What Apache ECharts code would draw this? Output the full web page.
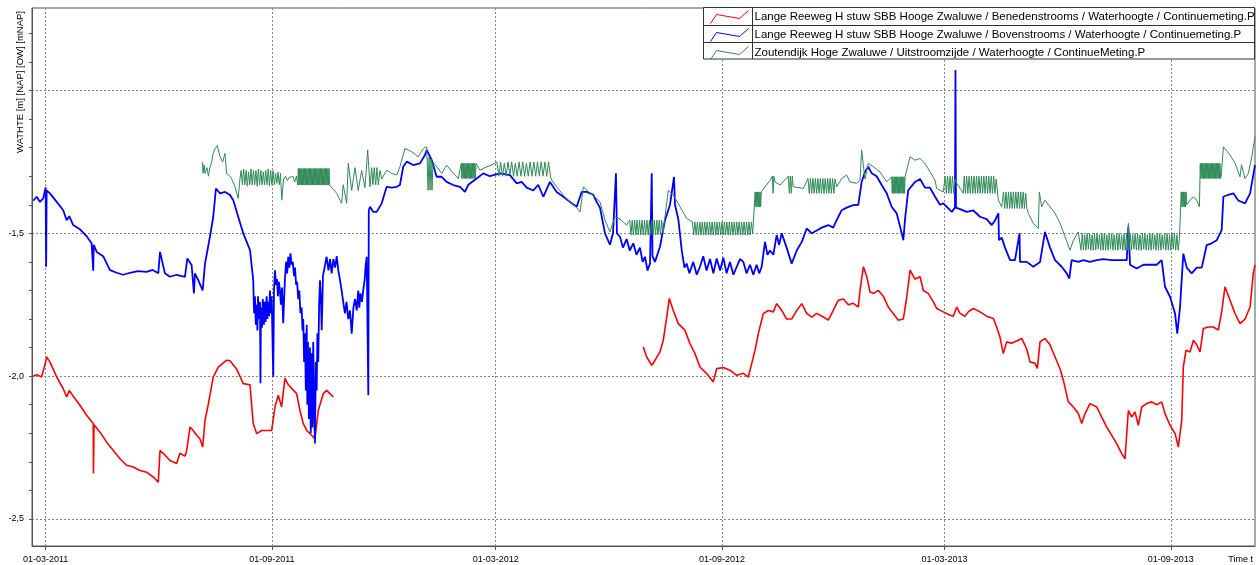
<!DOCTYPE html>
<html>
<head>
<meta charset="utf-8">
<title>WATHTE Hooge Zwaluwe</title>
<script src="https://cdn.jsdelivr.net/npm/echarts@6/dist/echarts.min.js"></script>
<style>
  html, body { margin: 0; padding: 0; background: #fff; }
  #chart { width: 1259px; height: 565px; }
</style>
</head>
<body>
<div id="chart"></div>
<script>
// x = dagen sinds 01-03-2011, y = waterhoogte [m NAP]
const xRange = [-11.1, 983.5];
const yRange = [-2.5945, -0.7112];
const xTickDates = ["01-03-2011", "01-09-2011", "01-03-2012", "01-09-2012", "01-03-2013", "01-09-2013"];
const yTickValues = [-2.5, -2.4, -2.3, -2.2, -2.1, -2.0, -1.9, -1.8, -1.7, -1.6, -1.5, -1.4, -1.3, -1.2, -1.1, -1.0, -0.9, -0.8];
const yLabelValues = [-2.5, -2.0, -1.5];
const yGridValues = [-2.5, -2.0, -1.5, -1.0];

const seriesNames = [
  "Lange Reeweg H stuw SBB Hooge Zwaluwe / Benedenstrooms / Waterhoogte / Continuemeting.P",
  "Lange Reeweg H stuw SBB Hooge Zwaluwe / Bovenstrooms / Waterhoogte / Continuemeting.P",
  "Zoutendijk Hoge Zwaluwe / Uitstroomzijde / Waterhoogte / ContinueMeting.P"
];
const seriesColors = ["#ff0000", "#0000ff", "#2e8b57"];

// benedenstrooms
const redReadings = [
  [-10.1,-2.0],[-7.3,-1.995],[-3.3,-2.003],[0,-1.95],[0.8,-1.933],[3.5,-1.95],[9,-2.003],[14.3,-2.044],[17.1,-2.073],
  [19.2,-2.05],[22.4,-2.07],[27.9,-2.102],[33.3,-2.137],[38.7,-2.166],[38.9,-2.341],[39.3,-2.17],[44.2,-2.196],
  [49.6,-2.231],[55,-2.26],[60.4,-2.289],[65.9,-2.312],[71.2,-2.318],[76.7,-2.33],[82.1,-2.336],[87.5,-2.353],
  [91.6,-2.371],[93,-2.26],[95.6,-2.27],[101.1,-2.295],[106.5,-2.306],[109.2,-2.27],[113.3,-2.28],[114.7,-2.26],
  [117.4,-2.178],[120,-2.19],[122.8,-2.207],[125.5,-2.22],[127.7,-2.248],[129.6,-2.155],[132.2,-2.10],[136.3,-2.003],
  [140.4,-1.968],[147.2,-1.944],[149.9,-1.946],[155.3,-1.975],[160.7,-2.026],[166.2,-2.03],[168.8,-2.166],
  [171.6,-2.201],[175.7,-2.19],[179.7,-2.19],[183.8,-2.19],[186.5,-2.108],[189.2,-2.067],[191.9,-2.108],
  [194.6,-2.008],[197.3,-2.03],[204.1,-2.061],[206.8,-2.12],[209.5,-2.166],[212.3,-2.19],[216.3,-2.207],
  [219,-2.219],[221.7,-2.12],[225.8,-2.061],[228.5,-2.05],[231.2,-2.061],[233.9,-2.073],
  [360,null],
  [486,-1.898],[488.8,-1.933],[492.9,-1.962],[495.5,-1.945],[499.6,-1.915],[502.3,-1.874],[505.1,-1.793],
  [507.2,-1.728],[510.4,-1.77],[514.5,-1.816],[519.9,-1.839],[524,-1.886],[528.1,-1.921],[532.1,-1.968],
  [537.6,-1.991],[543,-2.02],[545.7,-1.973],[551.1,-1.97],[556.5,-1.979],[562,-1.997],[567.4,-1.99],[571.4,-2.003],
  [574.2,-1.956],[576.9,-1.909],[579.6,-1.851],[583.6,-1.781],[587.7,-1.77],[591.8,-1.775],[594.5,-1.746],
  [598.6,-1.77],[602.6,-1.80],[606.7,-1.80],[610.8,-1.77],[614.9,-1.746],[618.9,-1.78],[623,-1.793],[627.1,-1.78],
  [632.4,-1.793],[636.5,-1.804],[640.5,-1.77],[644.6,-1.734],[648.7,-1.73],[652.8,-1.75],[656.8,-1.745],
  [660.9,-1.758],[662.3,-1.70],[665,-1.617],[667.7,-1.65],[670.4,-1.705],[673.1,-1.71],[677.2,-1.70],[681.2,-1.72],
  [685.3,-1.758],[689.3,-1.781],[693.4,-1.804],[697.5,-1.80],[700.3,-1.722],[703,-1.629],[707,-1.66],[711.1,-1.652],
  [713.8,-1.70],[717.8,-1.71],[721.9,-1.74],[724.6,-1.763],[730,-1.775],[735.5,-1.787],[738.2,-1.79],[740.9,-1.758],
  [743.6,-1.78],[747.7,-1.79],[750.3,-1.775],[754.4,-1.763],[759.9,-1.775],[765.3,-1.79],[770.7,-1.798],
  [773.4,-1.828],[776.1,-1.863],[778.8,-1.921],[781.6,-1.88],[785.6,-1.885],[789.7,-1.877],[793.8,-1.868],
  [797.8,-1.905],[800.5,-1.95],[804.6,-1.955],[806.5,-1.973],[808.7,-1.88],[812.7,-1.868],[816.8,-1.89],
  [820.9,-1.933],[825,-1.975],[827.6,-2.014],[831.7,-2.09],[835.8,-2.108],[839.8,-2.131],[842.6,-2.166],
  [845.3,-2.131],[849.3,-2.096],[854.8,-2.108],[858.8,-2.143],[862.9,-2.178],[867,-2.207],[871,-2.236],
  [875.1,-2.271],[877.8,-2.289],[880.5,-2.12],[883.2,-2.143],[885.9,-2.125],[888.6,-2.172],[891.4,-2.108],
  [895.4,-2.096],[899.5,-2.09],[903.6,-2.10],[907.6,-2.09],[910.3,-2.131],[914.4,-2.172],[918.5,-2.201],
  [921.2,-2.248],[923.9,-2.155],[925.2,-1.968],[927.4,-1.909],[930.7,-1.915],[933.4,-1.874],[936.1,-1.89],
  [938.8,-1.915],[941.5,-1.833],[945.5,-1.828],[949.6,-1.828],[953.7,-1.839],[956.4,-1.775],[959.1,-1.687],
  [963.2,-1.734],[967.3,-1.781],[971.3,-1.816],[975.4,-1.80],[979.5,-1.758],[982.1,-1.64],[983.5,-1.611]
];

// bovenstrooms
const blueReadings = [
  [-10.1,-1.386],[-7.3,-1.372],[-4.6,-1.39],[-2,-1.378],[0,-1.339],[0.4,-1.617],[0.8,-1.35],[3.5,-1.36],[9,-1.39],
  [14.3,-1.419],[17.1,-1.454],[19.2,-1.44],[22.4,-1.471],[27.9,-1.486],[33.3,-1.51],[37.4,-1.535],[38.7,-1.631],
  [39.1,-1.54],[41.5,-1.565],[46.8,-1.58],[52.3,-1.629],[57.7,-1.638],[63,-1.645],[68.6,-1.638],[75,-1.632],
  [82.1,-1.635],[87,-1.628],[91.6,-1.64],[93,-1.565],[97,-1.64],[101.1,-1.652],[106.5,-1.645],[113.3,-1.652],
  [115.2,-1.588],[118.7,-1.611],[120.6,-1.71],[121.4,-1.64],[124.1,-1.664],[125.5,-1.664],[127.7,-1.70],
  [129.6,-1.606],[133.6,-1.512],[136.3,-1.442],[138.5,-1.343],[141.8,-1.36],[146,-1.355],[149.9,-1.366],
  [152.6,-1.384],[156.6,-1.442],[160.7,-1.5],[163.5,-1.53],[166.2,-1.559],
  [168.8,-1.664],[169.5,-1.78],[170.2,-1.72],[170.9,-1.82],[171.6,-1.75],[172.2,-1.84],[172.7,-1.72],[173.4,-1.80],
  [174.3,-1.74],[174.7,-2.025],[175.1,-1.76],[175.9,-1.83],[176.6,-1.73],[177.5,-1.82],[178.2,-1.74],[178.9,-1.81],
  [179.7,-1.72],[180.4,-1.80],[181.1,-1.74],[181.8,-1.79],[182.4,-1.70],[183.1,-1.78],[183.8,-1.72],[185.1,-2.003],
  [185.7,-1.70],[186.5,-1.629],[187.3,-1.68],[188.1,-1.66],[188.9,-1.72],[189.7,-1.67],[190.5,-1.70],[191.3,-1.75],
  [192.2,-1.69],[193.2,-1.815],[194,-1.72],[194.6,-1.66],[195.5,-1.60],[196.4,-1.64],[197.3,-1.582],[198.2,-1.62],
  [199.1,-1.57],[200.1,-1.61],[201,-1.60],[202,-1.65],[202.8,-1.62],[203.7,-1.68],[204.5,-1.67],[205.4,-1.73],
  [206.3,-1.70],[207.2,-1.78],[208.2,-1.76],[208.9,-1.84],[209.5,-1.80],[210.2,-1.95],[210.9,-1.85],[211.6,-2.05],
  [212.3,-1.82],[212.8,-2.1],[213.3,-1.88],[214.1,-2.15],[215,-1.9],[215.6,-2.2],[216.3,-1.92],[217,-2.18],
  [217.6,-1.88],[218.3,-2.1],[219,-2.236],[219.7,-1.95],[220.4,-2.05],[221,-1.85],[221.7,-1.95],[222.4,-1.75],
  [223.1,-1.664],[224,-1.75],[224.5,-1.839],[225.5,-1.65],
  [228.5,-1.582],[230,-1.63],[231.3,-1.59],[232.6,-1.64],[234,-1.59],[235.4,-1.62],[236.7,-1.58],[238,-1.63],
  [239.4,-1.664],[240.7,-1.70],[242,-1.74],[243.4,-1.78],[244.7,-1.74],[246.1,-1.80],[247.5,-1.77],[248.9,-1.851],
  [250.3,-1.76],[251.6,-1.73],[253,-1.77],[254.2,-1.70],[255.1,-1.76],[256,-1.71],[257.2,-1.74],[258.3,-1.699],
  [259.5,-1.66],[260.3,-1.61],[261.1,-1.582],[262.4,-2.067],[262.8,-1.419],
  [263.8,-1.407],[266.4,-1.425],[269.2,-1.425],[273.3,-1.395],[277.3,-1.337],[281.4,-1.34],[285.5,-1.337],
  [288.1,-1.331],[290.8,-1.267],[293.6,-1.249],[299,-1.261],[304.4,-1.255],[308.5,-1.226],[309.9,-1.208],
  [314,-1.244],[318,-1.302],[322.1,-1.302],[326.1,-1.32],[331.5,-1.331],[337,-1.337],[341,-1.355],[343.7,-1.33],
  [350.5,-1.308],[355.9,-1.29],[361.3,-1.30],[369.5,-1.29],[377.6,-1.296],[383.1,-1.325],[387.1,-1.32],
  [391.2,-1.34],[396.6,-1.35],[400.6,-1.33],[404.7,-1.372],[410.1,-1.32],[415.6,-1.355],[421,-1.372],
  [426.4,-1.39],[431.9,-1.407],[435.9,-1.355],[440,-1.355],[445.4,-1.365],[448.1,-1.39],[450.8,-1.41],
  [454.9,-1.5],[458.9,-1.54],[461.4,-1.50],[463.8,-1.29],[464.6,-1.50],[467.1,-1.512],[469.5,-1.55],[472.5,-1.52],
  [475,-1.56],[477.9,-1.535],[480.5,-1.575],[483.3,-1.55],[485.5,-1.60],[487.4,-1.582],[489.5,-1.63],
  [491.5,-1.606],[492.9,-1.29],[493.5,-1.58],[495.5,-1.60],[499.6,-1.547],[503.7,-1.454],[507.7,-1.401],
  [511,-1.302],[511.8,-1.40],[514.5,-1.45],[517.3,-1.559],[519.5,-1.62],[521.3,-1.606],[523.5,-1.64],[526.7,-1.60],
  [529.5,-1.645],[532.1,-1.617],[534.8,-1.58],[537.5,-1.63],[540.3,-1.59],[543,-1.64],[545.7,-1.588],[548.5,-1.63],
  [551.1,-1.585],[553.8,-1.64],[556.5,-1.60],[559.3,-1.645],[562,-1.617],[564.7,-1.59],[567.4,-1.60],[570,-1.64],
  [572.8,-1.61],[575.5,-1.645],[578.2,-1.61],[580.3,-1.64],[582.3,-1.617],[585,-1.53],[587,-1.575],[589.1,-1.56],
  [591.8,-1.575],[594.5,-1.506],[596.5,-1.54],[598.6,-1.50],[602.6,-1.55],[606.7,-1.606],[610.8,-1.56],
  [614.9,-1.53],[618.9,-1.483],[623,-1.50],[627.1,-1.49],[631.1,-1.48],[636.5,-1.471],[640.5,-1.48],
  [643.3,-1.454],[647.4,-1.419],[651.4,-1.41],[656.8,-1.401],[660.9,-1.40],[663.6,-1.32],[666.3,-1.285],
  [669,-1.267],[671.8,-1.29],[675.8,-1.30],[679.9,-1.331],[684,-1.36],[688,-1.407],[692.1,-1.43],[696.2,-1.5],
  [697.5,-1.524],[698.9,-1.45],[701.5,-1.349],[707,-1.32],[711.1,-1.31],[715.1,-1.34],[719.2,-1.34],
  [723.3,-1.372],[727.3,-1.40],[730,-1.395],[736.9,-1.425],[739.5,-1.41],[739.9,-0.928],[740.3,-1.41],
  [743.6,-1.415],[749.1,-1.425],[754.4,-1.42],[759.9,-1.442],[765.3,-1.45],[769.4,-1.471],[772.1,-1.455],
  [774.8,-1.43],[775.3,-1.524],[777.5,-1.515],[780.2,-1.55],[784.3,-1.594],[788.3,-1.594],[792,-1.50],
  [792.4,-1.60],[797.9,-1.60],[803.2,-1.617],[808.7,-1.60],[812.7,-1.495],[816.8,-1.55],[820.9,-1.594],
  [826.3,-1.617],[830.4,-1.64],[832.5,-1.658],[834.4,-1.594],[839.8,-1.60],[843.9,-1.594],[849.3,-1.60],
  [854.8,-1.594],[860.2,-1.59],[867,-1.594],[873.7,-1.594],[879.2,-1.594],[880.5,-1.477],[881.9,-1.61],
  [887.3,-1.623],[892.7,-1.61],[898.1,-1.61],[903.6,-1.61],[907.6,-1.594],[910.3,-1.687],[914.4,-1.722],
  [918.5,-1.781],[920.3,-1.851],[922.5,-1.76],[925.2,-1.571],[928,-1.62],[932,-1.64],[936.1,-1.62],[940.2,-1.62],
  [944.2,-1.541],[948.3,-1.535],[952.4,-1.524],[956.4,-1.489],[957.8,-1.372],[961.8,-1.365],[965.9,-1.36],
  [969.9,-1.385],[975.4,-1.395],[979.5,-1.36],[983.5,-1.261]
];

const greenReadings = [
  [127.4,-1.25],[128,-1.29],[128.8,-1.26],[129.6,-1.29],[131.2,-1.27],[132.4,-1.30],[133.6,-1.27],[135,-1.249],
  [136.3,-1.22],[137.7,-1.203],[139.6,-1.193],[141.8,-1.232],[144,-1.25],[145.8,-1.22],[147.2,-1.29],[149.9,-1.30],
  [151.3,-1.31],[154,-1.337],[156.6,-1.378],[158,-1.31],
  [159,-1.28],[160,-1.33],[161,-1.275],[162,-1.33],[163,-1.28],[164,-1.335],[165,-1.285],[166,-1.33],[167,-1.275],
  [168,-1.33],[169,-1.28],[170,-1.33],[171,-1.28],[172,-1.335],[173,-1.275],[174,-1.33],[175,-1.28],[176,-1.33],
  [177,-1.285],[178,-1.33],[179,-1.28],[180,-1.33],[181,-1.275],[182,-1.335],[183,-1.28],[184,-1.33],[185,-1.28],
  [186,-1.33],[187,-1.29],[188,-1.325],[189,-1.285],[190,-1.33],[191,-1.29],[192,-1.384],
  [193.5,-1.31],[195,-1.30],[196.5,-1.315],[198,-1.305],[199.5,-1.31],[201,-1.30],[202.5,-1.32],[204,-1.30],
  [205,-1.331],[205.5,-1.273],[206,-1.331],[206.5,-1.273],[207,-1.331],[207.5,-1.273],[208,-1.331],[208.5,-1.273],
  [209,-1.331],[209.5,-1.273],[210,-1.331],[210.5,-1.273],[211,-1.331],[211.5,-1.273],[212,-1.331],[212.5,-1.273],
  [213,-1.331],[213.5,-1.273],[214,-1.331],[214.5,-1.273],[215,-1.331],[215.5,-1.273],[216,-1.331],[216.5,-1.273],
  [217,-1.331],[217.5,-1.273],[218,-1.331],[218.5,-1.273],[219,-1.331],[219.5,-1.273],[220,-1.331],[220.5,-1.273],
  [221,-1.331],[221.5,-1.273],[222,-1.331],[222.5,-1.273],[223,-1.331],[223.5,-1.273],[224,-1.331],[224.5,-1.273],
  [225,-1.331],[225.5,-1.273],[226,-1.331],[226.5,-1.273],[227,-1.331],[227.5,-1.273],[228,-1.331],[228.5,-1.273],
  [229,-1.331],[229.5,-1.273],[230,-1.331],[230.5,-1.273],[231,-1.331],
  [232.6,-1.33],[236.7,-1.36],[240.7,-1.395],[242,-1.33],[244.8,-1.395],[246.1,-1.255],[248.9,-1.35],[251.6,-1.27],
  [254.2,-1.35],[257,-1.28],[259.7,-1.34],[261.9,-1.208],[263.8,-1.337],[265.1,-1.27],[266.2,-1.33],[267.2,-1.27],
  [268.4,-1.33],[269.4,-1.27],[270.5,-1.33],[271.9,-1.28],[273.3,-1.31],[277.3,-1.279],[281.4,-1.29],
  [285.5,-1.296],[288.1,-1.267],[292.2,-1.203],[297.6,-1.214],[303,-1.232],[307.1,-1.203],[309.9,-1.197],
  [311,-1.349],[311.8,-1.232],[312.6,-1.349],[313.4,-1.24],[314.2,-1.349],[315,-1.25],[318,-1.267],[322.1,-1.29],
  [326.1,-1.261],[331.5,-1.29],[335.6,-1.308],
  [338,-1.255],[338.5,-1.308],[339,-1.255],[339.5,-1.308],[340,-1.255],[340.5,-1.308],[341,-1.255],[341.5,-1.308],
  [342,-1.255],[342.5,-1.308],[343,-1.255],[343.5,-1.308],[344,-1.255],[344.5,-1.308],[345,-1.255],[345.5,-1.308],
  [346,-1.255],[346.5,-1.308],[347,-1.255],[347.5,-1.308],[348,-1.255],[348.5,-1.308],[349,-1.255],[349.5,-1.308],
  [350,-1.255],
  [353.2,-1.279],[358.7,-1.267],[362.7,-1.261],
  [367,-1.25],[368.5,-1.30],[370,-1.25],[371.5,-1.30],[373,-1.255],[374.5,-1.30],[376,-1.25],[377.5,-1.295],
  [379,-1.25],[380.5,-1.30],[382,-1.255],[383.5,-1.30],[385,-1.25],[386.5,-1.30],[388,-1.25],[389.5,-1.30],
  [391,-1.255],[392.5,-1.30],[394,-1.25],[395.5,-1.30],[397,-1.25],[398.5,-1.30],[400,-1.25],[401.5,-1.30],
  [403,-1.25],[404.5,-1.30],[406,-1.25],[407.5,-1.30],[409,-1.25],[410.5,-1.30],
  [411.5,-1.314],[415.6,-1.337],[421,-1.366],[426.4,-1.39],[431.9,-1.41],[434.6,-1.425],[437.3,-1.337],
  [442.7,-1.36],[446.8,-1.372],[450.8,-1.39],[454.9,-1.454],[458.9,-1.495],[463,-1.442],[467.1,-1.45],[472.5,-1.471],
  [475,-1.454],[476,-1.506],[477,-1.454],[478,-1.506],[479,-1.454],[480,-1.506],[481,-1.454],[482,-1.506],
  [483,-1.454],[484,-1.506],[485,-1.454],[486,-1.506],[487,-1.454],[488,-1.506],[489,-1.454],[490,-1.506],
  [491,-1.454],[492,-1.506],[493,-1.454],[494,-1.506],[495,-1.454],[496,-1.506],[497,-1.454],[498,-1.506],
  [499,-1.454],[500,-1.506],[501,-1.454],[502,-1.5],
  [506.4,-1.349],[510.4,-1.366],[515.9,-1.407],[521.3,-1.448],
  [526,-1.46],[527,-1.506],[528,-1.46],[529,-1.506],[530,-1.46],[531,-1.506],[532,-1.46],[533,-1.506],[534,-1.46],
  [535,-1.506],[536,-1.46],[537,-1.506],[538,-1.46],[539,-1.506],[540,-1.46],[541,-1.506],[542,-1.46],[543,-1.506],
  [544,-1.46],[545,-1.506],[546,-1.46],[547,-1.506],[548,-1.46],[549,-1.506],[550,-1.46],[551,-1.506],[552,-1.46],
  [553,-1.506],[554,-1.46],[555,-1.506],[556,-1.46],[557,-1.506],[558,-1.46],[559,-1.506],[560,-1.46],[561,-1.506],
  [562,-1.46],[563,-1.506],[564,-1.46],[565,-1.506],[566,-1.46],[567,-1.506],[568,-1.46],[569,-1.506],[570,-1.46],
  [571,-1.506],[572,-1.46],[573,-1.506],[574,-1.46],[575,-1.5],
  [577,-1.355],[577.5,-1.407],[578,-1.355],[578.5,-1.407],[579,-1.355],[579.5,-1.407],[580,-1.355],[580.5,-1.407],
  [581,-1.355],[581.5,-1.407],[582,-1.355],
  [583.6,-1.36],[589.1,-1.314],[591,-1.30],[591.6,-1.36],[592.2,-1.30],[593.2,-1.32],[597.3,-1.331],
  [604,-1.30],[604.8,-1.36],[605.6,-1.30],[606.4,-1.36],[607.2,-1.30],[608,-1.337],[616.2,-1.343],
  [620,-1.308],[621,-1.36],[622,-1.308],[623,-1.36],[624,-1.308],[625,-1.36],[626,-1.308],[627,-1.36],[628,-1.308],
  [629,-1.36],[630,-1.308],[631,-1.36],[632,-1.308],[633,-1.36],[634,-1.308],[635,-1.36],[636,-1.308],[637,-1.36],
  [638,-1.308],[639,-1.36],[640,-1.308],[641,-1.36],[642,-1.31],
  [643.3,-1.337],[647.4,-1.308],[651.4,-1.296],[654.1,-1.32],[659.5,-1.325],[662.3,-1.314],[663.6,-1.208],
  [664.9,-1.203],[666.3,-1.31],[669,-1.255],[673.1,-1.267],[678.5,-1.285],[684,-1.32],
  [688,-1.302],[688.5,-1.36],[689,-1.302],[689.5,-1.36],[690,-1.302],[690.5,-1.36],[691,-1.302],[691.5,-1.36],
  [692,-1.302],[692.5,-1.36],[693,-1.302],[693.5,-1.36],[694,-1.302],[694.5,-1.36],[695,-1.302],[695.5,-1.36],
  [696,-1.302],[696.5,-1.36],[697,-1.302],[697.5,-1.36],[698,-1.302],[698.5,-1.36],[699,-1.30],
  [700.3,-1.296],[703,-1.232],[707,-1.244],[711.1,-1.238],[715.1,-1.255],[719.2,-1.285],[723.3,-1.314],
  [724.6,-1.343],[730,-1.355],
  [731.5,-1.30],[732.5,-1.36],[733.5,-1.30],[734.5,-1.36],[735.5,-1.30],[736.5,-1.36],[737.5,-1.30],[738.5,-1.36],
  [739.5,-1.31],[741,-1.325],[746.3,-1.36],
  [747,-1.30],[748,-1.36],[749,-1.30],[750,-1.36],[751,-1.30],[752,-1.36],[753,-1.30],[754,-1.36],[755,-1.30],
  [756,-1.36],[757,-1.30],[758,-1.36],[759,-1.30],[760,-1.36],[761,-1.30],[762,-1.36],[763,-1.30],[764,-1.36],
  [765,-1.30],[766,-1.36],[767,-1.30],[768,-1.36],[769,-1.30],[770,-1.36],[771,-1.30],[772,-1.36],[773,-1.31],
  [774.8,-1.384],[777.5,-1.407],
  [779,-1.355],[780,-1.413],[781,-1.355],[782,-1.413],[783,-1.355],[784,-1.413],[785,-1.355],[786,-1.413],
  [787,-1.355],[788,-1.413],[789,-1.355],[790,-1.413],[791,-1.355],[792,-1.413],[793,-1.355],[794,-1.413],
  [795,-1.355],[796,-1.413],[797,-1.36],[798,-1.413],
  [799.1,-1.43],[803.2,-1.465],[807.3,-1.483],[808.1,-1.355],[810,-1.407],[812.7,-1.384],[816.8,-1.407],
  [820.9,-1.43],[825,-1.465],[829,-1.512],[833.1,-1.559],[835.8,-1.524],[839.8,-1.495],
  [841,-1.50],[842,-1.559],[843,-1.50],[844,-1.559],[845,-1.505],[846,-1.559],[847,-1.50],[848,-1.555],[849,-1.50],
  [850,-1.559],[851,-1.505],[852,-1.559],[853,-1.50],[854,-1.559],[855,-1.50],[856,-1.555],[857,-1.505],[858,-1.559],
  [859,-1.50],[860,-1.559],[861,-1.50],[862,-1.559],[863,-1.505],[864,-1.559],[865,-1.50],[866,-1.555],[867,-1.50],
  [868,-1.559],[869,-1.505],[870,-1.559],[871,-1.50],[872,-1.559],[873,-1.50],[874,-1.555],[875,-1.505],
  [876,-1.559],[877,-1.50],[878,-1.559],[879,-1.50],[880,-1.559],[880.5,-1.465],[881,-1.559],[882,-1.50],
  [883,-1.559],[884,-1.505],[885,-1.555],[886,-1.50],[887,-1.559],[888,-1.50],[889,-1.559],[890,-1.505],
  [891,-1.559],[892,-1.50],[893,-1.555],[894,-1.50],[895,-1.559],[896,-1.505],[897,-1.559],[898,-1.50],
  [899,-1.559],[900,-1.50],[901,-1.555],[902,-1.505],[903,-1.559],[904,-1.50],[905,-1.559],[906,-1.50],
  [907,-1.559],[908,-1.505],[909,-1.555],[910,-1.50],[911,-1.559],[912,-1.50],[913,-1.559],[914,-1.505],
  [915,-1.559],[916,-1.50],[917,-1.555],[918,-1.50],[919,-1.559],[920,-1.505],[921,-1.559],[922,-1.52],
  [923.5,-1.355],[924,-1.407],[924.5,-1.355],[925,-1.407],[925.5,-1.355],[926,-1.407],[926.5,-1.355],[927,-1.407],
  [927.5,-1.355],[928,-1.40],
  [930.7,-1.384],[933.4,-1.372],[936.1,-1.384],[938.3,-1.407],
  [939,-1.255],[939.5,-1.308],[940,-1.255],[940.5,-1.308],[941,-1.255],[941.5,-1.308],[942,-1.255],[942.5,-1.308],
  [943,-1.255],[943.5,-1.308],[944,-1.255],[944.5,-1.308],[945,-1.255],[945.5,-1.308],[946,-1.255],[946.5,-1.308],
  [947,-1.255],[947.5,-1.308],[948,-1.255],[948.5,-1.308],[949,-1.255],[949.5,-1.308],[950,-1.255],[950.5,-1.308],
  [951,-1.255],[951.5,-1.308],[952,-1.255],[952.5,-1.308],[953,-1.255],[953.5,-1.308],[954,-1.255],[954.5,-1.308],
  [955,-1.255],[955.5,-1.308],[956,-1.30],
  [957.8,-1.197],[963.2,-1.226],[967.3,-1.255],[971.3,-1.302],[972.5,-1.26],[975.4,-1.308],[978.1,-1.29],
  [980.9,-1.232],[983.5,-1.162]
];

const chartDom = document.getElementById("chart");
const myChart = echarts.init(chartDom, null, { renderer: "canvas" });

const dayMs = 24 * 3600 * 1000;
const startTime = new Date(2011, 2, 1).getTime();
const toTime = (d) => startTime + d * dayMs;
const parseDate = (s) => {
  const p = s.split("-");
  return new Date(+p[2], +p[1] - 1, +p[0]).getTime();
};
const pad = (n) => (n < 10 ? "0" + n : "" + n);
const font = "Liberation Sans";

function toSeries(readings) {
  return readings.map((r) => [toTime(r[0]), r[1]]);
}

const allReadings = [redReadings, blueReadings, greenReadings];
const lineWidths = [1.6, 1.8, 1];
const xTicks = xTickDates.map(parseDate);

myChart.setOption({
  animation: false,
  backgroundColor: "#fff",
  grid: {
    left: 32,
    right: 4,
    top: 8,
    bottom: 19,
    show: true,
    borderColor: "#555",
    borderWidth: 1,
  },
  legend: {
    orient: "vertical",
    left: 710,
    top: 10,
    padding: 0,
    itemWidth: 40,
    itemHeight: 13,
    itemGap: 4,
    icon: "path://M0,13L6,4L29,8L38,0",
    textStyle: { fontFamily: font, fontSize: 11.5, color: "#000", lineHeight: 13 },
    data: seriesNames.map((name, i) => ({
      name: name,
      itemStyle: { color: "transparent", borderColor: seriesColors[i], borderWidth: 1 },
    })),
  },
  xAxis: {
    // tijd als getal (ms), zodat de vaste halfjaar-streepjes kunnen
    type: "value",
    min: toTime(xRange[0]),
    max: toTime(xRange[1]),
    axisLine: { lineStyle: { color: "#555" } },
    axisTick: {
      length: 4,
      customValues: xTicks,
      lineStyle: { color: "#555" },
    },
    axisLabel: {
      customValues: xTicks,
      fontFamily: font,
      fontSize: 9,
      color: "#000",
      margin: 9,
      formatter: function (val) {
        const d = new Date(val);
        return pad(d.getDate()) + "-" + pad(d.getMonth() + 1) + "-" + d.getFullYear();
      },
    },
    splitLine: {
      show: true,
      lineStyle: { color: "#888", type: [2, 2], width: 1 },
    },
  },
  yAxis: [
    {
      type: "value",
      min: yRange[0],
      max: yRange[1],
      axisLine: { show: true, lineStyle: { color: "#555" } },
      axisTick: { show: true, length: 3, customValues: yTickValues, lineStyle: { color: "#555" } },
      axisLabel: {
        customValues: yLabelValues,
        fontFamily: font,
        fontSize: 9,
        color: "#000",
        margin: 8,
        formatter: (v) => v.toFixed(1).replace(".", ","),
      },
      splitLine: { show: false },
    },
    {
      // alleen voor de stippellijnen op hele halve meters
      type: "value",
      position: "left",
      min: yRange[0],
      max: yRange[1],
      axisLine: { show: false },
      axisTick: { show: false, customValues: yGridValues },
      axisLabel: { show: false },
      splitLine: {
        show: true,
        lineStyle: { color: "#888", type: [2, 2], width: 1 },
      },
    },
  ],
  graphic: {
    elements: [
      {
        type: "text",
        x: 20,
        y: 11,
        rotation: Math.PI / 2,
        style: {
          text: "WATHTE [m] [NAP] [OW] [mNAP]",
          font: "9.5px " + font,
          fill: "#000",
          align: "right",
          verticalAlign: "middle",
          textAlign: "right",
          textVerticalAlign: "middle",
        },
      },
      {
        type: "text",
        x: 1253,
        y: 560,
        style: {
          text: "Time t",
          font: "9px " + font,
          fill: "#000",
          align: "right",
          verticalAlign: "middle",
          textAlign: "right",
          textVerticalAlign: "middle",
        },
      },
      {
        // legenda-tabel
        type: "rect",
        z: 3,
        shape: { x: 703.5, y: 7.5, width: 551, height: 51.5 },
        style: { fill: "#fff", stroke: "#333", lineWidth: 1 },
      },
      {
        type: "line",
        z: 5,
        shape: { x1: 703.5, y1: 25.5, x2: 1254.5, y2: 25.5 },
        style: { stroke: "#333", lineWidth: 1 },
      },
      {
        type: "line",
        z: 5,
        shape: { x1: 703.5, y1: 42.5, x2: 1254.5, y2: 42.5 },
        style: { stroke: "#333", lineWidth: 1 },
      },
      {
        type: "line",
        z: 5,
        shape: { x1: 752.5, y1: 7.5, x2: 752.5, y2: 59 },
        style: { stroke: "#333", lineWidth: 1 },
      },
    ],
  },
  series: seriesNames.map((name, i) => ({
    name: name,
    type: "line",
    yAxisIndex: 0,
    showSymbol: false,
    symbol: "none",
    connectNulls: false,
    data: toSeries(allReadings[i]),
    color: seriesColors[i],
    lineStyle: { color: seriesColors[i], width: lineWidths[i] },
  })),
});
</script>
</body>
</html>
